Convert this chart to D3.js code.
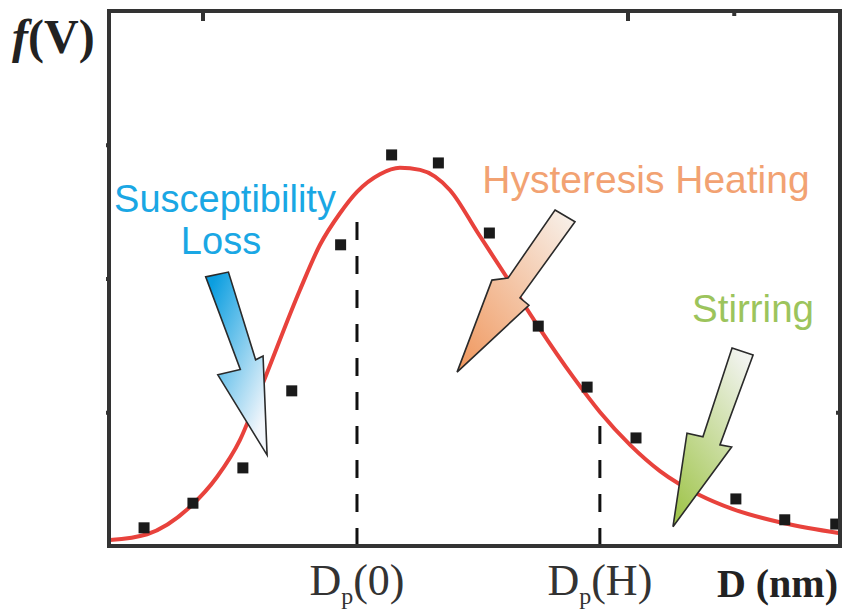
<!DOCTYPE html>
<html>
<head>
<meta charset="utf-8">
<script src="https://cdn.jsdelivr.net/npm/d3@7"></script>
<style>
  body { margin: 0; background: #fff; }
  svg { display: block; }
</style>
</head>
<body>
<div id="chart"></div>
<script>
// measured size distribution (squares)
const pointD = [2.25, 4.55, 6.9, 9.2, 11.5, 13.9, 16.1, 18.5, 20.8, 23.1, 25.4, 30.1, 32.4, 34.8];
const pointF = [0.034, 0.080, 0.146, 0.290, 0.563, 0.731, 0.716, 0.585, 0.411, 0.297, 0.202, 0.088, 0.049, 0.041];

// fitted curve
const fitD = [0.65, 2.39, 4.41, 5.68, 6.76, 7.85, 9.59, 10.53, 11.47, 12.27, 13.35, 14.29, 15.24, 16.65, 17.96, 19.24, 20.79, 22.44, 23.71, 25.12, 26.53, 28.41, 29.96, 32.32, 35.0];
const fitF = [0.011, 0.022, 0.073, 0.129, 0.198, 0.305, 0.479, 0.563, 0.622, 0.662, 0.695, 0.707, 0.703, 0.665, 0.585, 0.507, 0.411, 0.316, 0.250, 0.189, 0.140, 0.095, 0.069, 0.043, 0.024];

// peak diameters (dashed markers)
const peakNames = ["0", "H"];
const peakD = [12.27, 23.7];
const peakTop = [0.63, 0.245];

// tick positions
const topTicks = [5, 25];
const topMinorTicks = [30];
const sideTicks = [0.25, 0.5, 0.75];

// annotation arrows, in chart units [D, f]
const arrowBlue = [[5.15, 0.503], [6.22, 0.512], [7.50, 0.348], [7.85, 0.355], [8.04, 0.170], [5.72, 0.320], [6.78, 0.330]];
const arrowOrange = [[21.59, 0.628], [22.53, 0.606], [19.94, 0.464], [20.36, 0.450], [16.98, 0.325], [18.62, 0.497], [19.38, 0.501]];
const arrowGreen = [[29.92, 0.370], [30.91, 0.357], [29.35, 0.189], [29.90, 0.185], [27.14, 0.036], [27.80, 0.211], [28.55, 0.204]];

var w = 847, h = 609;
var mLeft = 109, mRight = 840, mTop = 11, mBottom = 546;

var svg = d3.select("#chart").append("svg")
    .attr("width", w)
    .attr("height", h);

var x = d3.scaleLinear().domain([0.6, 35]).range([mLeft, mRight]);
var y = d3.scaleLinear().domain([0, 1]).range([mBottom, mTop]);

var defs = svg.append("defs");
function grad(id, c1, c2, x1, y1, x2, y2) {
    var g = defs.append("linearGradient").attr("id", id)
        .attr("x1", x1).attr("y1", y1).attr("x2", x2).attr("y2", y2);
    g.append("stop").attr("offset", "0%").attr("stop-color", c1);
    g.append("stop").attr("offset", "100%").attr("stop-color", c2);
}
grad("gBlue", "#0b9ee0", "#f2f6fb", "0", "0.15", "0.7", "1");
grad("gOrange", "#f8f3ee", "#f09a62", "1", "0", "0.1", "1");
grad("gGreen", "#f1f3ee", "#a2c650", "0.8", "0", "0.2", "1");

// dashed peak markers
svg.selectAll("line.peak")
    .data(peakD)
    .enter().append("line")
    .attr("class", "peak")
    .attr("x1", d => x(d)).attr("x2", d => x(d))
    .attr("y1", y(0)).attr("y2", (d, i) => y(peakTop[i]))
    .style("stroke", "#111")
    .style("stroke-width", 3)
    .style("stroke-dasharray", "18,16");

// fit curve
var line = d3.line()
    .x(d => x(d[0]))
    .y(d => y(d[1]))
    .curve(d3.curveMonotoneX);

svg.append("path")
    .datum(fitD.map((d, i) => [d, fitF[i]]))
    .attr("d", line)
    .style("fill", "none")
    .style("stroke", "#e8423c")
    .style("stroke-width", 4);

// data squares
var sq = 11;
svg.selectAll("rect.pt")
    .data(pointD)
    .enter().append("rect")
    .attr("class", "pt")
    .attr("x", d => x(d) - sq / 2)
    .attr("y", (d, i) => y(pointF[i]) - sq / 2)
    .attr("width", sq).attr("height", sq)
    .style("fill", "#1a1a1a");

// arrows
var poly = d3.line().x(d => x(d[0])).y(d => y(d[1])).curve(d3.curveLinearClosed);
[[arrowBlue, "gBlue"], [arrowOrange, "gOrange"], [arrowGreen, "gGreen"]].forEach(function (a) {
    svg.append("path")
        .attr("d", poly(a[0]))
        .style("fill", "url(#" + a[1] + ")")
        .style("stroke", "#2a2a2a")
        .style("stroke-width", 1.6)
        .style("stroke-linejoin", "miter");
});

// frame
svg.append("rect")
    .attr("x", mLeft).attr("y", mTop)
    .attr("width", mRight - mLeft).attr("height", mBottom - mTop)
    .style("fill", "none")
    .style("stroke", "#333")
    .style("stroke-width", 4);

// ticks
var axTop = svg.append("g").attr("transform", "translate(0," + mTop + ")")
    .call(d3.axisTop(x).tickValues(topTicks).tickSize(-10).tickFormat(""));
var axTop2 = svg.append("g").attr("transform", "translate(0," + mTop + ")")
    .call(d3.axisTop(x).tickValues(topMinorTicks).tickSize(-5).tickFormat(""));
var axL = svg.append("g").attr("transform", "translate(" + mLeft + ",0)")
    .call(d3.axisLeft(y).tickValues(sideTicks).tickSize(3).tickFormat(""));
var axR = svg.append("g").attr("transform", "translate(" + mRight + ",0)")
    .call(d3.axisRight(y).tickValues([0.25]).tickSize(-4).tickFormat(""));
[axTop, axTop2, axL, axR].forEach(function (g) {
    g.select(".domain").remove();
    g.selectAll(".tick line").style("stroke", "#333").style("stroke-width", 4);
});

// axis labels
var serif = "'Liberation Serif', 'Times New Roman', serif";
var fv = svg.append("text").attr("x", 12).attr("y", 53)
    .style("font-family", serif).style("font-size", "48px").style("font-weight", "bold")
    .style("fill", "#222");
fv.append("tspan").style("font-style", "italic").text("f");
fv.append("tspan").text("(V)");

svg.append("text").attr("x", 838).attr("y", 597)
    .attr("text-anchor", "end")
    .style("font-family", serif).style("font-size", "40px").style("font-weight", "bold")
    .style("fill", "#222")
    .text("D (nm)");

peakD.forEach(function (d, i) {
    var t = svg.append("text").attr("x", x(d)).attr("y", 595)
        .attr("text-anchor", "middle")
        .style("font-family", serif).style("font-size", "44px")
        .style("fill", "#333");
    t.append("tspan").text("D");
    t.append("tspan").attr("dy", 9).style("font-size", "24px").text("p");
    t.append("tspan").attr("dy", -9).text("(" + peakNames[i] + ")");
});

// annotation labels
var sans = "'Liberation Sans', Arial, sans-serif";
function label(txt, cx, by, color, size) {
    svg.append("text").attr("x", cx).attr("y", by)
        .attr("text-anchor", "middle")
        .style("font-family", sans).style("font-size", size + "px")
        .style("fill", color)
        .text(txt);
}
label("Susceptibility", 225, 212, "#1aa7e4", 38);
label("Loss", 221, 254, "#1aa7e4", 38);
label("Hysteresis Heating", 646, 193, "#f2a272", 39);
label("Stirring", 753, 322, "#9cc45c", 38.5);
</script>
</body>
</html>
